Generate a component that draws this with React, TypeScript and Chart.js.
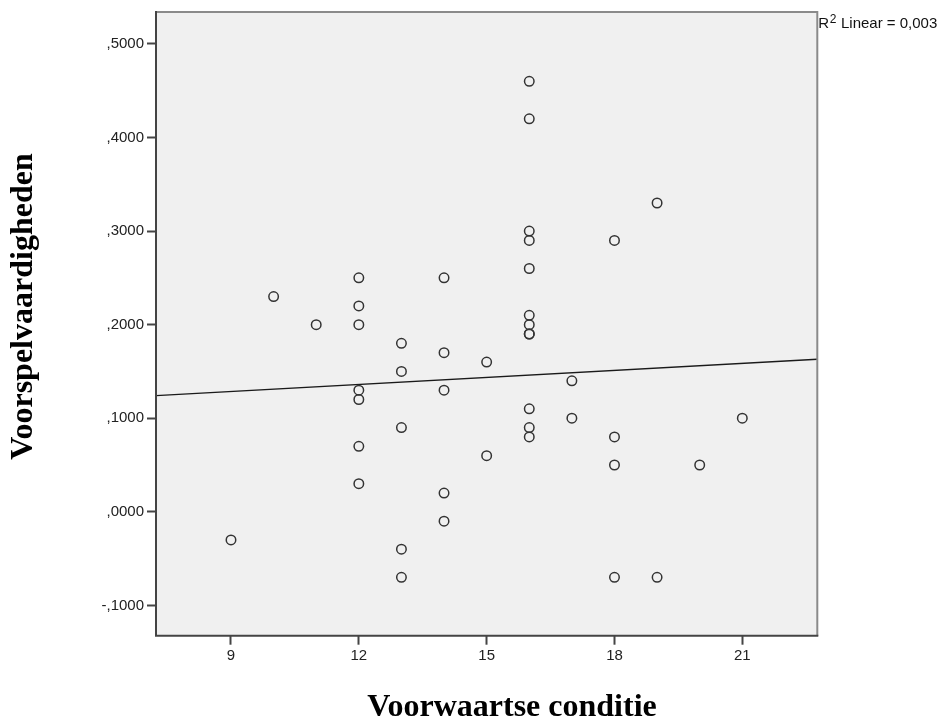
import { useEffect, useRef } from "react";
import { Chart, registerables } from "chart.js";

Chart.register(...registerables);

// Scatter data: Voorwaartse conditie (x) vs Voorspelvaardigheden (y)
const conditie = [
  9, 10, 11,
  12, 12, 12, 12, 12, 12, 12,
  13, 13, 13, 13, 13,
  14, 14, 14, 14, 14,
  15, 15,
  16, 16, 16, 16, 16, 16, 16, 16, 16, 16, 16, 16,
  17, 17,
  18, 18, 18, 18,
  19, 19,
  20, 21,
];
const voorspel = [
  -0.03, 0.23, 0.2,
  0.25, 0.22, 0.2, 0.13, 0.12, 0.07, 0.03,
  0.18, 0.15, 0.09, -0.04, -0.07,
  0.25, 0.17, 0.13, 0.02, -0.01,
  0.16, 0.06,
  0.46, 0.42, 0.3, 0.29, 0.26, 0.21, 0.2, 0.19, 0.19, 0.11, 0.09, 0.08,
  0.14, 0.1,
  0.29, 0.08, 0.05, -0.07,
  0.33, -0.07,
  0.05, 0.1,
];

const xTicks = [9, 12, 15, 18, 21];
const yTicks = [-0.1, 0, 0.1, 0.2, 0.3, 0.4, 0.5];
const xRange = [7.24, 22.76];
const yRange = [-0.1324, 0.5341];

const xTitle = "Voorwaartse conditie";
const yTitle = "Voorspelvaardigheden";
const r2Text = " Linear = 0,003";

function fmtY(v: number): string {
  const s = Math.abs(v).toFixed(4).replace(/^0\./, ",");
  return (v < -1e-9 ? "-" : "") + s;
}

function regression(xs: number[], ys: number[]) {
  const n = xs.length;
  const mx = xs.reduce((a, b) => a + b, 0) / n;
  const my = ys.reduce((a, b) => a + b, 0) / n;
  let sxy = 0;
  let sxx = 0;
  for (let i = 0; i < n; i++) {
    sxy += (xs[i] - mx) * (ys[i] - my);
    sxx += (xs[i] - mx) * (xs[i] - mx);
  }
  const b = sxy / sxx;
  const a = my - b * mx;
  return { a, b };
}

const decorPlugin = {
  id: "decor",
  beforeDraw(chart: any) {
    const { ctx, chartArea: ca } = chart;
    ctx.save();
    ctx.fillStyle = "#f0f0f0";
    ctx.fillRect(ca.left, ca.top, ca.right - ca.left, ca.bottom - ca.top);
    ctx.restore();
  },
  afterDraw(chart: any) {
    const { ctx, chartArea: ca } = chart;
    ctx.save();
    ctx.lineWidth = 2;
    ctx.strokeStyle = "#8a8a8a";
    ctx.beginPath();
    ctx.moveTo(ca.left, ca.top);
    ctx.lineTo(ca.right, ca.top);
    ctx.lineTo(ca.right, ca.bottom);
    ctx.stroke();
    ctx.strokeStyle = "#444";
    ctx.beginPath();
    ctx.moveTo(ca.left, ca.top - 1);
    ctx.lineTo(ca.left, ca.bottom);
    ctx.lineTo(ca.right + 1, ca.bottom);
    ctx.stroke();

    // R² label
    ctx.fillStyle = "#111";
    ctx.textBaseline = "alphabetic";
    ctx.textAlign = "left";
    ctx.font = '15px "Liberation Sans", Arial, sans-serif';
    ctx.fillText("R", 818.3, 28.3);
    const rw = ctx.measureText("R").width;
    ctx.font = '12px "Liberation Sans", Arial, sans-serif';
    ctx.fillText("2", 818.3 + rw + 0.5, 23);
    const sw = ctx.measureText("2").width;
    ctx.font = '15px "Liberation Sans", Arial, sans-serif';
    ctx.fillText(r2Text, 818.3 + rw + 0.5 + sw + 0.5, 28.3);

    // Axis titles
    ctx.fillStyle = "#000";
    ctx.font = 'bold 32px "Liberation Serif", "Times New Roman", serif';
    ctx.textAlign = "center";
    ctx.textBaseline = "middle";
    ctx.fillText(xTitle, 512, 707.4);
    ctx.translate(24.2, 306.5);
    ctx.rotate(-Math.PI / 2);
    ctx.fillText(yTitle, 0, 0);
    ctx.restore();
  },
};

export default function App() {
  const ref = useRef<HTMLCanvasElement | null>(null);

  useEffect(() => {
    if (!ref.current) return;
    const { a, b } = regression(conditie, voorspel);
    const points = conditie.map((x, i) => ({ x, y: voorspel[i] }));
    const fitLine = [
      { x: xRange[0], y: a + b * xRange[0] },
      { x: xRange[1], y: a + b * xRange[1] },
    ];
    const tickFont = { family: '"Liberation Sans", Arial, sans-serif', size: 15 };

    const chart = new Chart(ref.current, {
      type: "scatter",
      data: {
        datasets: [
          {
            type: "scatter",
            data: points,
            pointRadius: 4.75,
            pointHoverRadius: 4.75,
            pointBorderWidth: 1.5,
            borderColor: "#333",
            backgroundColor: "rgba(0,0,0,0)",
            pointStyle: "circle",
          } as any,
          {
            type: "line",
            data: fitLine,
            borderColor: "#1a1a1a",
            borderWidth: 1.3,
            pointRadius: 0,
            fill: false,
          } as any,
        ],
      },
      options: {
        responsive: false,
        animation: false,
        events: [],
        layout: { padding: { left: 0, top: 9.7, right: 125.7, bottom: 0 } },
        plugins: {
          legend: { display: false },
          tooltip: { enabled: false },
          title: { display: false },
        },
        scales: {
          x: {
            type: "linear",
            min: xRange[0],
            max: xRange[1],
            afterBuildTicks: (s: any) => {
              s.ticks = xTicks.map((v) => ({ value: v }));
            },
            afterFit: (s: any) => {
              s.height = 86.3;
            },
            grid: {
              drawOnChartArea: false,
              drawTicks: true,
              tickLength: 9,
              tickColor: "#444",
              tickWidth: 2,
            },
            border: { display: false },
            ticks: {
              padding: 2,
              color: "#222",
              font: tickFont,
              maxRotation: 0,
              autoSkip: false,
              callback: (v: any) => String(v),
            },
          },
          y: {
            type: "linear",
            min: yRange[0],
            max: yRange[1],
            afterBuildTicks: (s: any) => {
              s.ticks = yTicks.map((v) => ({ value: v }));
            },
            afterFit: (s: any) => {
              s.width = 156;
            },
            grid: {
              drawOnChartArea: false,
              drawTicks: true,
              tickLength: 9,
              tickColor: "#444",
              tickWidth: 2,
            },
            border: { display: false },
            ticks: {
              padding: 3,
              color: "#222",
              font: tickFont,
              autoSkip: false,
              callback: (v: any) => fmtY(Number(v)),
            },
          },
        },
      } as any,
      plugins: [decorPlugin],
    });
    return () => chart.destroy();
  }, []);

  return (
    <div style={{ position: "absolute", left: 0, top: 0, width: 943, height: 722 }}>
      <canvas ref={ref} width={943} height={722} style={{ display: "block" }} />
    </div>
  );
}
